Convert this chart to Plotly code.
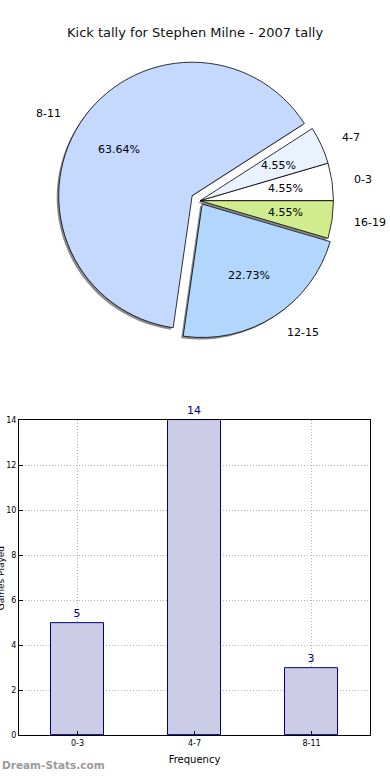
import math
import plotly.graph_objects as go

# ---- data ----
title_text = "Kick tally for Stephen Milne - 2007 tally"
pie_labels = ["0-3", "4-7", "8-11", "12-15", "16-19"]
pie_values = [1, 1, 14, 5, 1]
pie_colors = ["#FFFFFF", "#EAF2FF", "#C5D9FF", "#B3D6FF", "#D0EC8C"]
pie_pull = [0.0, 0.0, 0.07, 0.03, 0.0]

bar_cats = ["0-3", "4-7", "8-11"]
bar_vals = [5, 14, 3]
y_ticks = [0, 2, 4, 6, 8, 10, 12, 14]

W, H = 390, 780
FONT = "DejaVu Sans"

# pie geometry (layout, in px)
cx, cy, r = 200, 199, 135
half = r * (1 + max(pie_pull))
total = sum(pie_values)
# plotly's counterclockwise pies end the first slice at the rotation angle
rotation = 90 - 360.0 * pie_values[0] / total


def px_x(x):
    return x / W


def px_y(y):
    return (H - y) / H


dom_x = [px_x(cx - half), px_x(cx + half)]
dom_y = [px_y(cy + half), px_y(cy - half)]
sh = 2  # shadow offset in px

fig = go.Figure()

# shadow
fig.add_trace(go.Pie(
    labels=pie_labels, values=pie_values, sort=False, direction="counterclockwise",
    rotation=rotation, pull=pie_pull, textinfo="none", hoverinfo="skip",
    marker=dict(colors=["#8a8a8a"] * len(pie_values), line=dict(width=0)),
    domain=dict(x=[dom_x[0] - sh / W, dom_x[1] - sh / W], y=[dom_y[0] - sh / H, dom_y[1] - sh / H]),
    showlegend=False,
))
# pie
fig.add_trace(go.Pie(
    labels=pie_labels, values=pie_values, sort=False, direction="counterclockwise",
    rotation=rotation, pull=pie_pull, textinfo="none",
    marker=dict(colors=pie_colors, line=dict(color="#000000", width=0.8)),
    domain=dict(x=dom_x, y=dom_y),
    showlegend=False,
))

annotations = []
cum = 0.0
for lab, v, p in zip(pie_labels, pie_values, pie_pull):
    a0 = cum / total * 360
    cum += v
    a1 = cum / total * 360
    mid = math.radians((a0 + a1) / 2)
    ox = cx + p * r * math.cos(mid)
    oy = cy - p * r * math.sin(mid)
    # percentage
    px_ = ox + 0.64 * r * math.cos(mid)
    py_ = oy - 0.64 * r * math.sin(mid)
    annotations.append(dict(x=px_x(px_), y=px_y(py_), xref="paper", yref="paper",
                            xanchor="center", yanchor="middle",
                            text=f"{v / total * 100:.2f}%", showarrow=False,
                            font=dict(family=FONT, size=11, color="#000000")))
    # label
    lx = ox + 1.14 * r * math.cos(mid)
    ly = oy - 1.14 * r * math.sin(mid)
    annotations.append(dict(x=px_x(lx), y=px_y(ly), xref="paper", yref="paper",
                            text=lab, showarrow=False, yanchor="middle",
                            xanchor="left" if math.cos(mid) > 0 else "right",
                            font=dict(family=FONT, size=11, color="#000000")))

# bars
fig.add_trace(go.Bar(
    x=list(range(len(bar_cats))), y=bar_vals, width=0.445,
    marker=dict(color="#CCCCE6", line=dict(color="#000080", width=1)),
    text=[str(v) for v in bar_vals], textposition="outside", cliponaxis=False,
    textfont=dict(family=FONT, size=11, color="#000080"),
    xaxis="x", yaxis="y", showlegend=False, hoverinfo="skip",
))

annotations.append(dict(x=0.5, y=px_y(29), xref="paper", yref="paper", text=title_text,
                        xanchor="center", yanchor="middle",
                        showarrow=False, font=dict(family=FONT, size=13, color="#111111")))
annotations.append(dict(x=0, y=px_y(770), xref="paper", yref="paper", xanchor="left", yanchor="middle",
                        text="<b>Dream-Stats.com</b>", showarrow=False,
                        font=dict(family=FONT, size=10.5, color="#9a9a9a")))
annotations.append(dict(x=px_x(1), y=px_y(581), xref="paper", yref="paper", textangle=-90,
                        xanchor="center", yanchor="middle",
                        text="Games Played", showarrow=False,
                        font=dict(family=FONT, size=9, color="#000000")))

grid_style = dict(showgrid=True, gridcolor="#b4b4b4", griddash="1px,2px", gridwidth=1)

fig.update_layout(
    width=W, height=H, margin=dict(l=0, r=0, t=0, b=0),
    paper_bgcolor="white", plot_bgcolor="white",
    font=dict(family=FONT, color="#000000"),
    annotations=annotations,
    bargap=0,
    xaxis=dict(domain=[px_x(19), px_x(370)], range=[-0.5, 2.5],
               tickmode="array", tickvals=list(range(len(bar_cats))), ticktext=bar_cats,
               tickfont=dict(size=8), ticks="inside", ticklen=4, tickcolor="#000",
               showline=True, linecolor="#000", linewidth=1, mirror=True, zeroline=False,
               title=dict(text="Frequency", font=dict(size=10), standoff=8), fixedrange=True,
               **grid_style),
    yaxis=dict(domain=[px_y(740), px_y(421)], range=[0, 14],
               tickmode="array", tickvals=y_ticks, tickfont=dict(size=8),
               ticks="inside", ticklen=4, tickcolor="#000",
               showline=True, linecolor="#000", linewidth=1, mirror=True, zeroline=False,
               fixedrange=True, **grid_style),
)

fig.write_html("out.html", config={"displayModeBar": False},
               post_script="document.body.style.margin='0';")
